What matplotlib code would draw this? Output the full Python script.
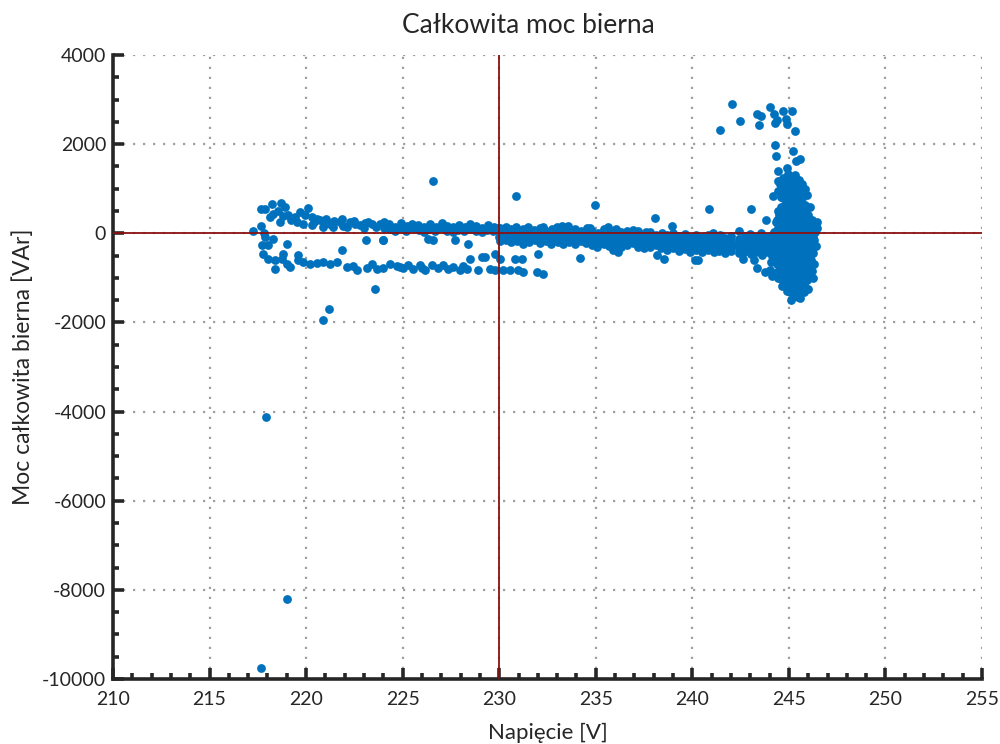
import numpy as np
import matplotlib.pyplot as plt
from matplotlib.ticker import MultipleLocator

plt.rcParams['font.family'] = ['Lato', 'DejaVu Sans']

# isolated samples far from the main cloud
outliers = [(217.68, -9750), (219.03, -8212), (217.90, -4120), (220.88, -1945),
            (221.20, -1698), (223.55, -1256), (226.56, 1182), (230.87, 830),
            (234.94, 628), (238.07, 343), (240.88, 554), (243.06, 554),
            (243.82, 298), (238.97, 157)]

# upper branch at low voltage (positive reactive power)
upper_band = [(217.23, 52), (217.65, 554), (217.87, 538), (218.22, 666), (218.68, 689),
              (218.91, 590), (218.30, 442), (218.13, 366), (218.65, 254), (219.08, 404),
              (219.43, 366), (219.68, 478), (220.11, 577), (219.86, 218), (220.29, 366),
              (220.55, 330), (220.89, 141), (221.24, 218), (221.76, 254), (222.27, 254),
              (222.79, 180), (223.40, 218), (223.83, 218), (224.17, 180), (217.65, 157),
              (217.80, 0), (217.87, -80), (218.52, 500), (219.21, 300), (219.52, 250),
              (218.81, 380), (219.93, 420), (220.31, 180), (220.42, 250), (220.71, 300),
              (221.03, 220), (221.02, 330), (221.41, 150), (221.45, 280), (221.92, 170),
              (221.88, 320), (222.11, 130), (222.52, 200), (222.48, 280), (223.02, 120),
              (223.05, 230), (223.21, 260), (223.63, 140), (224.02, 260), (224.05, 110),
              (224.31, 200), (224.33, 90), (224.62, 150), (224.58, 40), (224.93, 230),
              (224.91, 110), (225.22, 170), (225.19, 60), (225.51, 120), (225.47, 210),
              (225.83, 80), (225.78, 180), (226.12, 140), (226.09, 30), (226.41, 200),
              (226.38, 90), (226.72, 150), (226.69, 50), (227.02, 110), (227.05, 220),
              (227.31, 170), (227.28, 60), (227.63, 130), (227.59, 30), (227.92, 190),
              (227.88, 80), (228.21, 140), (228.18, 40), (228.52, 100), (228.49, 200),
              (228.81, 160), (228.78, 60), (229.12, 120), (229.09, 30), (229.42, 180),
              (229.38, 80), (229.71, 140), (229.68, 40), (229.95, 110)]

# lower branch at low voltage (negative reactive power)
lower_band = [(217.70, -270), (218.04, -270), (217.79, -455), (218.30, -120), (218.82, -455),
              (219.03, -247), (218.04, -568), (218.39, -606), (218.39, -792), (218.74, -568),
              (219.17, -755), (219.00, -680), (219.60, -494), (219.60, -606), (219.86, -643),
              (220.20, -680), (220.55, -666), (220.89, -643), (221.24, -680), (221.58, -643),
              (221.84, -381), (222.10, -755), (222.44, -740), (222.61, -830), (223.14, -770),
              (223.40, -680), (223.66, -792), (224.00, -770), (223.10, -141), (223.97, -141),
              (224.34, -696), (224.69, -740), (225.03, -770), (225.55, -792), (225.90, -718),
              (226.16, -830), (226.50, -718), (226.85, -770), (227.10, -718), (227.37, -792),
              (227.97, -815), (228.32, -792), (228.49, -568), (228.92, -815), (229.09, -532),
              (229.26, -532), (229.78, -471), (229.78, -830), (230.04, -568), (230.21, -815),
              (230.56, -815), (230.82, -568), (231.16, -568), (231.25, -868), (230.99, -830),
              (231.94, -868), (232.28, -920), (232.00, -455), (234.18, -553), (226.33, -120),
              (226.59, -157), (227.70, -157), (228.40, -230), (223.96, -150), (224.85, -760),
              (225.30, -720), (226.00, -790), (227.60, -760), (228.10, -740), (229.50, -800)]

# main band above nominal voltage
main_band = [(230.02, 120), (230.05, 20), (229.98, -80), (230.04, -180), (230.31, 60),
             (230.28, -30), (230.33, -150), (230.35, 150), (230.62, 100), (230.58, 0),
             (230.64, -120), (230.61, -200), (230.91, 40), (230.88, -60), (230.93, -170),
             (230.86, 130), (231.22, 90), (231.18, -20), (231.21, -130), (231.24, -230),
             (231.50, 141), (231.52, 30), (231.47, -90), (231.53, -190), (231.81, 70),
             (231.78, -40), (231.83, -160), (232.11, 110), (232.08, 0), (232.13, -110),
             (232.09, -210), (232.28, 141), (232.42, 50), (232.39, -70), (232.44, -180),
             (232.71, 90), (232.68, -20), (232.73, -140), (232.70, -240), (233.02, 30),
             (232.98, -80), (233.04, -190), (233.01, 150), (233.23, 157), (233.32, 80),
             (233.29, -30), (233.34, -130), (233.31, -230), (233.58, 157), (233.61, 20),
             (233.63, -100), (233.59, -200), (233.91, 100), (233.88, -10), (233.93, -120),
             (233.90, -250), (234.21, 40), (234.18, -70), (234.23, -170), (234.52, 120),
             (234.49, 0), (234.53, -110), (234.50, -220), (234.70, 120), (234.81, 60),
             (234.79, -50), (234.83, -160), (234.80, -260), (235.11, 10), (235.08, -90),
             (235.12, -200), (235.08, -307), (235.41, 90), (235.38, -20), (235.43, -140),
             (235.40, -240), (235.65, 141), (235.71, 30), (235.68, -80), (235.73, -180),
             (235.91, -381), (235.70, -280), (236.02, 80), (235.99, -40), (236.03, -150),
             (236.00, -250), (236.05, 105), (236.17, -420), (236.31, 20), (236.28, -90),
             (236.33, -200), (236.30, -300), (236.61, 60), (236.58, -60), (236.63, -170),
             (236.60, -270), (236.95, 67), (236.91, 0), (236.88, -110), (236.93, -220),
             (237.21, 40), (237.18, -80), (237.23, -190), (237.20, -300), (237.51, -20),
             (237.48, -130), (237.53, -240), (237.50, -340), (237.60, 30), (237.81, 20),
             (237.78, -90), (237.83, -200), (237.80, -310), (238.11, -40), (238.08, -150),
             (238.13, -260), (238.16, -478), (238.41, 10), (238.38, -100), (238.43, -220),
             (238.40, -330), (238.53, -568), (238.71, -50), (238.68, -170), (238.73, -280),
             (238.70, -380), (239.01, 0), (238.98, -110), (239.03, -230), (239.00, -340),
             (239.31, -60), (239.28, -180), (239.33, -290), (239.30, -400), (239.61, -20),
             (239.58, -130), (239.63, -250), (239.60, -360), (239.91, -80), (239.88, -190),
             (239.93, -300), (239.90, -410), (240.14, -606), (240.30, -606), (240.21, -30),
             (240.18, -140), (240.23, -260), (240.20, -370), (240.51, -90), (240.48, -200),
             (240.53, -310), (240.50, -420), (240.81, -40), (240.78, -150), (240.83, -270),
             (240.80, -380), (241.05, 16), (241.11, -100), (241.08, -210), (241.13, -320),
             (241.10, -430), (241.41, -50), (241.38, -160), (241.43, -280), (241.40, -390),
             (241.71, -110), (241.68, -220), (241.73, -330), (241.70, -440), (242.01, -60),
             (241.98, -170), (242.03, -290), (242.00, -400), (242.40, 45), (242.41, -120),
             (242.38, -230), (242.43, -340), (242.40, -450), (242.61, -583), (242.71, -70),
             (242.68, -180), (242.73, -300), (242.70, -410), (243.01, -20), (242.98, -130),
             (243.03, -240), (243.00, -350), (243.04, -460), (243.20, -590), (243.34, -770),
             (243.31, -80), (243.28, -190), (243.33, -310), (243.30, -420), (243.54, 16),
             (243.61, -30), (243.58, -140), (243.63, -250), (243.60, -370), (243.62, -480),
             (243.77, -868), (243.91, -90), (243.88, -200), (243.93, -320), (243.90, -430),
             (244.11, -40), (244.08, -150), (244.13, -260), (244.10, -380), (244.12, -500)]

# scattered high readings just below 245 V
high_group = [(242.07, 2901), (241.43, 2318), (242.45, 2513), (243.37, 2677), (243.57, 2641),
              (243.47, 2439), (244.00, 2827), (244.23, 2670), (244.37, 2542), (244.30, 2475),
              (244.71, 2744), (244.85, 2558), (245.18, 2753), (244.92, 2446), (245.32, 2304),
              (244.28, 1990), (244.35, 1734), (244.44, 1398), (245.20, 1840), (245.56, 1676),
              (245.39, 1615), (244.92, 1474), (244.18, 837), (244.44, 958)]

# dense column around 245 V
spike = [(244.22, 20), (244.18, -210), (244.25, -390), (244.20, -610), (244.31, 250),
         (244.42, 510), (244.38, 290), (244.45, 110), (244.40, -90), (244.43, -310),
         (244.37, -520), (244.41, -700), (244.39, -880), (244.44, -1010), (244.46, 1180),
         (244.61, 810), (244.58, 590), (244.63, 410), (244.60, 190), (244.57, 10),
         (244.62, -210), (244.59, -390), (244.64, -610), (244.61, -790), (244.58, -1020),
         (244.66, -1190), (244.72, 1250), (244.81, 1090), (244.78, 910), (244.83, 690),
         (244.80, 510), (244.84, 290), (244.79, 110), (244.82, -110), (244.78, -290),
         (244.85, -510), (244.81, -710), (244.79, -890), (244.84, -1110), (244.88, -1290),
         (244.95, 1320), (245.01, 1120), (244.98, 890), (245.03, 710), (245.00, 490),
         (244.97, 310), (245.04, 90), (245.01, -110), (244.98, -310), (245.03, -490),
         (245.00, -710), (244.97, -910), (245.02, -1090), (245.05, -1310), (245.10, -1500),
         (245.21, 1210), (245.18, 990), (245.23, 810), (245.20, 590), (245.17, 410),
         (245.24, 190), (245.21, 10), (245.18, -210), (245.23, -390), (245.20, -610),
         (245.17, -790), (245.22, -1010), (245.19, -1190), (245.24, -1410), (245.41, 1010),
         (245.38, 790), (245.43, 610), (245.40, 390), (245.37, 210), (245.44, -10),
         (245.41, -190), (245.38, -410), (245.43, -590), (245.40, -810), (245.37, -990),
         (245.42, -1210), (245.45, -1440), (245.30, 1300), (245.61, 910), (245.58, 690),
         (245.63, 510), (245.60, 290), (245.57, 110), (245.64, -90), (245.61, -310),
         (245.58, -490), (245.63, -710), (245.60, -890), (245.57, -1110), (245.62, -1290),
         (245.55, -1450), (245.81, 640), (245.78, 460), (245.83, 240), (245.80, 60),
         (245.77, -160), (245.84, -340), (245.81, -560), (245.78, -740), (245.83, -960),
         (245.80, -1140), (245.76, -1320), (246.01, 410), (245.98, 190), (246.03, 10),
         (246.00, -210), (245.97, -390), (246.04, -610), (246.01, -790), (245.98, -1010),
         (246.00, -1240), (246.21, 300), (246.18, 140), (246.23, -90), (246.20, -360),
         (246.17, -590), (246.22, -840), (246.36, 210), (246.33, 20), (246.38, -290),
         (245.92, 860), (246.10, 600), (245.70, 1100), (245.50, 1200)]

# readings filling the gaps inside the 245 V column
spike_fill = [(244.30, -100), (244.29, -300), (244.33, -480), (244.50, 400), (244.52, 200),
              (244.49, -20), (244.51, -200), (244.53, -410), (244.48, -610), (244.52, -800),
              (244.70, 1000), (244.69, 800), (244.71, 600), (244.68, 400), (244.72, 200),
              (244.70, 0), (244.69, -200), (244.71, -400), (244.68, -600), (244.72, -800),
              (244.70, -1000), (244.90, 1200), (244.91, 1000), (244.89, 800), (244.92, 600),
              (244.90, 400), (244.88, 200), (244.91, 0), (244.89, -200), (244.92, -400),
              (244.90, -600), (244.88, -800), (244.91, -1000), (244.93, -1200), (245.10, 1100),
              (245.11, 900), (245.09, 700), (245.12, 500), (245.10, 300), (245.08, 100),
              (245.11, -100), (245.09, -300), (245.12, -500), (245.10, -700), (245.08, -900),
              (245.11, -1100), (245.09, -1300), (245.30, 1100), (245.31, 900), (245.29, 700),
              (245.32, 500), (245.30, 300), (245.28, 100), (245.31, -100), (245.29, -300),
              (245.32, -500), (245.30, -700), (245.28, -900), (245.31, -1100), (245.29, -1300),
              (245.50, 1000), (245.51, 800), (245.49, 600), (245.52, 400), (245.50, 200),
              (245.48, 0), (245.51, -200), (245.49, -400), (245.52, -600), (245.50, -800),
              (245.48, -1000), (245.51, -1200), (245.48, -1380), (245.70, 800), (245.71, 600),
              (245.69, 400), (245.72, 200), (245.70, 0), (245.68, -200), (245.71, -400),
              (245.69, -600), (245.72, -800), (245.70, -1000), (245.68, -1200), (245.90, 550),
              (245.91, 350), (245.89, 150), (245.92, -50), (245.90, -250), (245.88, -450),
              (245.91, -650), (245.89, -850), (245.92, -1050), (245.90, -1250), (246.10, 300),
              (246.11, 100), (246.09, -100), (246.12, -300), (246.10, -500), (246.08, -700),
              (246.11, -900), (246.28, 100), (246.30, -150), (246.27, -450), (246.40, 150),
              (246.45, 250), (246.47, 120), (244.05, -650), (244.02, -820), (244.15, -960),
              (246.30, -700), (246.25, -1000), (244.55, 1100), (245.85, 1000)]

title = 'Całkowita moc bierna'
x_label = 'Napięcie [V]'
y_label = 'Moc całkowita bierna [VAr]'
x_ticks = [210, 215, 220, 225, 230, 235, 240, 245, 250, 255]
y_ticks = [-10000, -8000, -6000, -4000, -2000, 0, 2000, 4000]
nominal_voltage = 230

points = np.array(outliers + upper_band + lower_band + main_band + high_group
                  + spike + spike_fill)

fig = plt.figure(figsize=(10, 7.44), dpi=100)
ax = fig.add_axes([0.113, 0.0874, 0.869, 0.8387])

ax.scatter(points[:, 0], points[:, 1], s=40, color='#0072BD', linewidths=0, zorder=2)

ax.axvline(nominal_voltage, color='#8B1010', lw=1.3, zorder=3)
ax.axhline(0, color='#8B1010', lw=1.3, zorder=3)

ax.set_xlim(210, 255)
ax.set_ylim(-10000, 4000)
ax.set_xticks(x_ticks)
ax.set_xticklabels([str(t) for t in x_ticks])
ax.set_yticks(y_ticks)
ax.set_yticklabels([str(t) for t in y_ticks])
ax.xaxis.set_minor_locator(MultipleLocator(1))
ax.yaxis.set_minor_locator(MultipleLocator(500))

ax.grid(True, which='major', color='#a0a0a0', linestyle=(0, (1, 3.5)), lw=1.6)
ax.set_axisbelow(True)

for side in ['top', 'right']:
    ax.spines[side].set_visible(False)
for side in ['left', 'bottom']:
    ax.spines[side].set_linewidth(2.6)
    ax.spines[side].set_color('#262626')

ax.tick_params(which='major', direction='in', length=8, width=2.6, color='#262626',
               labelsize=14, labelcolor='#262626', pad=5)
ax.tick_params(axis='x', which='major', pad=9)
ax.tick_params(which='minor', direction='in', length=4.5, width=2.6, color='#262626')

ax.set_title(title, fontsize=19, color='#262626', x=0.478, pad=16)
ax.set_xlabel(x_label, fontsize=16, color='#262626', labelpad=10)
ax.set_ylabel(y_label, fontsize=16.5, color='#262626', labelpad=6)

fig.savefig('out.png', dpi=100)
